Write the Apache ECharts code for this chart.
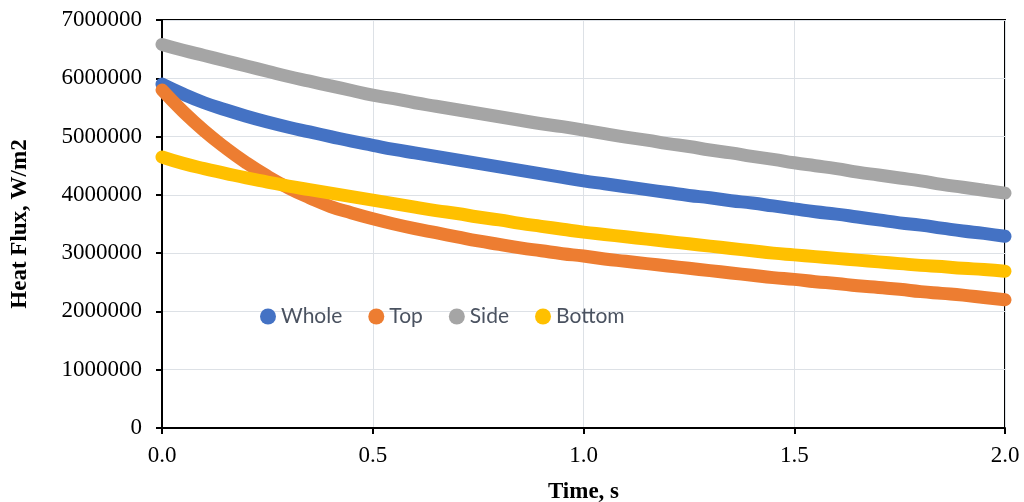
<!DOCTYPE html>
<html>
<head>
<meta charset="utf-8">
<script src="https://cdn.jsdelivr.net/npm/echarts@6/dist/echarts.min.js"></script>
<style>html,body{margin:0;padding:0;background:#fff;}#c{width:1024px;height:502px;}</style>
</head>
<body>
<div id="c"></div>
<script>
var times = [0.00,0.05,0.10,0.15,0.20,0.25,0.30,0.35,0.40,0.45,0.50,0.55,0.60,0.65,0.70,0.75,0.80,0.85,0.90,0.95,1.00,1.05,1.10,1.15,1.20,1.25,1.30,1.35,1.40,1.45,1.50,1.55,1.60,1.65,1.70,1.75,1.80,1.85,1.90,1.95,2.00];
var whole = [5.90,5.73,5.58,5.46,5.35,5.25,5.16,5.08,5.00,4.92,4.85,4.78,4.72,4.66,4.60,4.54,4.48,4.42,4.36,4.30,4.24,4.19,4.14,4.09,4.04,3.99,3.95,3.90,3.86,3.81,3.76,3.71,3.67,3.62,3.57,3.52,3.48,3.43,3.38,3.34,3.29];
var top_ = [5.80,5.43,5.10,4.81,4.55,4.32,4.12,3.95,3.80,3.69,3.59,3.50,3.42,3.35,3.28,3.21,3.15,3.09,3.04,2.99,2.95,2.90,2.86,2.82,2.78,2.74,2.70,2.66,2.62,2.58,2.55,2.51,2.48,2.44,2.41,2.38,2.34,2.31,2.28,2.24,2.20];
var side = [6.58,6.48,6.39,6.30,6.21,6.12,6.03,5.95,5.87,5.79,5.71,5.65,5.58,5.52,5.46,5.40,5.34,5.28,5.22,5.17,5.11,5.05,4.99,4.94,4.88,4.83,4.77,4.72,4.66,4.61,4.55,4.50,4.45,4.39,4.34,4.29,4.24,4.18,4.13,4.08,4.03];
var bottom = [4.65,4.54,4.45,4.37,4.29,4.22,4.15,4.09,4.03,3.97,3.91,3.85,3.79,3.73,3.68,3.62,3.57,3.51,3.46,3.41,3.36,3.32,3.28,3.24,3.20,3.16,3.12,3.08,3.04,3.00,2.97,2.94,2.91,2.88,2.85,2.82,2.79,2.77,2.74,2.72,2.69];
var yTicks = [0,1000000,2000000,3000000,4000000,5000000,6000000,7000000];
var names = ['Whole','Top','Side','Bottom'];
var colors = ['#4472C4','#ED7D31','#A5A5A5','#FFC000'];
var allData = [whole, top_, side, bottom];

function pairs(arr){ return times.map(function(t,i){ return [t, arr[i]*1000000]; }); }

var chart = echarts.init(document.getElementById('c'));
chart.setOption({
  animation:false,
  backgroundColor:'#fff',
  grid:{left:162,right:19,top:20,bottom:74,outerBoundsMode:'none',containLabel:false,show:true,borderColor:'#000',borderWidth:2,backgroundColor:'transparent'},
  legend:{
    data:names, left:260, top:306, padding:0, itemWidth:16, itemHeight:16, itemGap:26, icon:'circle',
    textStyle:{fontFamily:'Lato',fontSize:21,color:'#4a5260'}
  },
  xAxis:{
    type:'value', min:0, max:2, interval:0.5,
    name:'Time, s', nameLocation:'middle', nameGap:53,
    nameTextStyle:{fontFamily:'Liberation Serif',fontWeight:'bold',fontSize:23,color:'#000'},
    axisLine:{show:true,lineStyle:{color:'#000',width:2}},
    axisTick:{show:true,length:6,lineStyle:{color:'#000',width:2}},
    axisLabel:{fontFamily:'Liberation Serif',fontSize:23,color:'#000',margin:16,formatter:function(v){return v.toFixed(1);}},
    splitLine:{show:true,lineStyle:{color:'#dde1e6',width:1}}
  },
  yAxis:{
    type:'value', min:yTicks[0], max:yTicks[yTicks.length-1], interval:yTicks[1]-yTicks[0],
    name:'Heat Flux, W/m2', nameLocation:'middle', nameGap:130, nameRotate:90,
    nameTextStyle:{fontFamily:'Liberation Serif',fontWeight:'bold',fontSize:23,color:'#000'},
    axisLine:{show:true,lineStyle:{color:'#000',width:2}},
    axisTick:{show:true,length:6,lineStyle:{color:'#000',width:2}},
    axisLabel:{fontFamily:'Liberation Serif',fontSize:23,color:'#000',margin:20,formatter:function(v){return String(v);}},
    splitLine:{show:true,lineStyle:{color:'#dde1e6',width:1}}
  },
  series: names.map(function(n,i){
    return {
      name:n, type:'line', smooth:true, data:pairs(allData[i]), z:2+i,
      symbol:'circle', symbolSize:13, showSymbol:false,
      itemStyle:{color:colors[i]},
      lineStyle:{color:colors[i],width:13,cap:'round',join:'round'}
    };
  })
});
</script>
</body>
</html>
